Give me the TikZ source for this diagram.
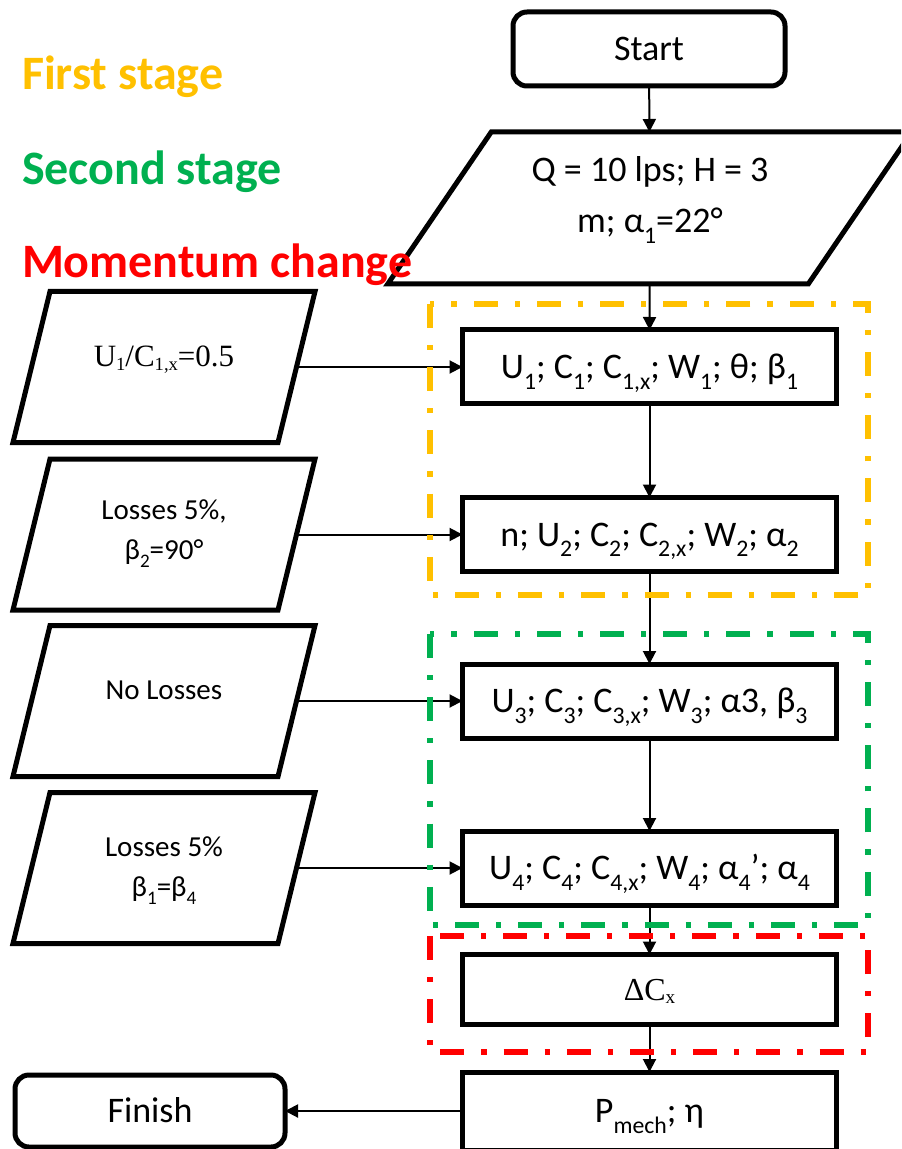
\documentclass[tikz,border=0pt]{standalone}
\usepackage[no-math]{fontspec}
\usepackage{graphicx}
\setmainfont{Carlito}
\newfontfamily\serifface{Liberation Serif}
\usetikzlibrary{arrows.meta}
\definecolor{stageone}{HTML}{FFC000}
\definecolor{stagetwo}{HTML}{00B050}
\definecolor{stagemom}{HTML}{FF0000}
% two centred lines whose anchor is the first baseline
\newcommand\stacktwo[2]{\begin{tabular}[t]{@{}c@{}}#1\\#2\end{tabular}}
% low, fairly large subscript
\newcommand\sub[1]{\raisebox{-0.3em}{\scalebox{0.66}{#1}}}
% small subscript, only slightly lowered (serif labels)
\newcommand\ssub[1]{\raisebox{-0.12em}{\scalebox{0.6}{#1}}}

\begin{document}
\begin{tikzpicture}[x=0.5pt,y=-0.5pt,
  every node/.style={inner sep=0pt, outer sep=0pt},
  mainfont/.style={font=\fontsize{18}{25.5}\selectfont},
  sidefont/.style={font=\fontsize{14.5}{20}\selectfont},
  procbox/.style={draw, line width=2.5pt, minimum width=187pt, minimum height=37pt,
    mainfont, text height=11.6pt, text depth=0pt},
  termbox/.style={procbox, rounded corners=7pt},
  slantbox/.style={},
  outline/.style={line width=2.5pt, line join=miter},
  flow/.style={line width=1pt, -{Triangle[length=6.5pt,width=6.5pt]}},
  stageframe/.style={line width=2.6pt, dash pattern=on 12pt off 8.5pt on 2.6pt off 8.5pt},
  stagelabel/.style={anchor=base west, font=\fontsize{24}{28}\selectfont\bfseries},
]
\useasboundingbox (0,0) rectangle (901,1149);
\clip (0,0) rectangle (901,1149);

% terminals
\node[termbox, minimum width=136pt] (start) at (649,49) {Start};
\node[termbox, minimum width=135pt, minimum height=36pt] (fin) at (150,1111) {Finish};

% input data (slanted outline drawn from the node's corners)
\node[slantbox, minimum width=210.25pt, minimum height=76pt] (data) at (649.75,208) {};
\draw[outline] ([xshift=-25.875pt]data.south west) -- ([xshift=25.875pt]data.north west)
  -- ([xshift=25.875pt]data.north east) -- ([xshift=-25.875pt]data.south east) -- cycle;
\node[mainfont, anchor=base] (datatxt) at (650,182)
  {\stacktwo{Q = 10 lps; H = 3}{m; α\sub{1}=22°}};

% side inputs
\node[slantbox, minimum width=132.5pt, minimum height=75.5pt] (p1) at (164,367) {};
\node[slantbox, minimum width=132.5pt, minimum height=75.5pt] (p2) at (164,534.5) {};
\node[slantbox, minimum width=132.5pt, minimum height=75.5pt] (p3) at (164,701) {};
\node[slantbox, minimum width=132.5pt, minimum height=75.5pt] (p4) at (164,868) {};
\foreach \n in {p1,p2,p3,p4}
  \draw[outline] ([xshift=-9.25pt]\n.south west) -- ([xshift=9.25pt]\n.north west)
    -- ([xshift=9.25pt]\n.north east) -- ([xshift=-9.25pt]\n.south east) -- cycle;

\node[font=\serifface\fontsize{15.5}{20}\selectfont, anchor=base] (p1txt) at (164,367)
  {U\ssub{1}/C\ssub{1,x}=0.5};
\node[sidefont, anchor=base] (p2txt) at (164,519)
  {\stacktwo{Losses 5\%,}{β\sub{2}=90°}};
\node[sidefont, anchor=base] (p3txt) at (164,699) {No Losses};
\node[sidefont, anchor=base] (p4txt) at (164,856)
  {\stacktwo{Losses 5\%}{β\sub{1}=β\sub{4}}};

% process steps
\node[procbox] (b1) at (649.5,367)
  {U\sub{1}; C\sub{1}; C\sub{1,x}; W\sub{1}; θ; β\sub{1}};
\node[procbox] (b2) at (649.5,534.5)
  {n; U\sub{2}; C\sub{2}; C\sub{2,x}; W\sub{2}; α\sub{2}};
\node[procbox] (b3) at (649.5,701)
  {U\sub{3}; C\sub{3}; C\sub{3,x}; W\sub{3}; α3, β\sub{3}};
\node[procbox] (b4) at (649.5,868)
  {U\sub{4}; C\sub{4}; C\sub{4,x}; W\sub{4}; α\sub{4}’; α\sub{4}};
\node[procbox, minimum height=35pt, font=\serifface\fontsize{16}{18}\selectfont, text height=10.5pt]
  (b5) at (649.5,989.5) {ΔC\ssub{x}};
\node[procbox, minimum height=39pt] (b6) at (649.5,1111)
  {P\sub{mech}; η};

% connectors
\draw[flow] (start) -- (data);
\draw[flow] (data) -- (b1);
\draw[flow] (b1) -- (b2);
\draw[flow] (b2) -- (b3);
\draw[flow] (b3) -- (b4);
\draw[flow] (b4) -- (b5);
\draw[flow] (b5) -- (b6);
\draw[flow] (b6) -- (fin);
\draw[flow] (p1.east) -- (b1.west);
\draw[flow] (p2.east) -- (b2.west);
\draw[flow] (p3.east) -- (b3.west);
\draw[flow] (p4.east) -- (b4.west);

% stage frames
\draw[stageframe, stageone] (430,304) rectangle (868,595);
\draw[stageframe, stagetwo] (430,634) rectangle (868,925);
\draw[stageframe, stagemom] (430,936) rectangle (868,1052);

% legend
\node[stagelabel, text=stageone] (lab1) at (22,90) {First stage};
\node[stagelabel, text=stagetwo] (lab2) at (22,185) {Second stage};
\node[stagelabel, text=stagemom] (lab3) at (22,278) {Momentum change};
\end{tikzpicture}
\end{document}
